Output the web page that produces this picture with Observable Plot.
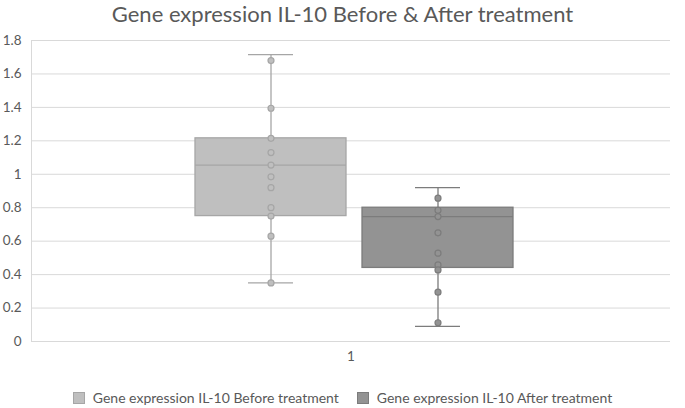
<!DOCTYPE html>
<html>
<head>
<meta charset="utf-8">
<script src="https://cdn.jsdelivr.net/npm/d3@7"></script>
<script src="https://cdn.jsdelivr.net/npm/@observablehq/plot@0.6"></script>
<style>
  body { margin: 0; background: #fff; font-family: Lato, "Open Sans", sans-serif; }
  #wrap { position: relative; width: 685px; height: 408px; overflow: hidden; }
  #title { position: absolute; top: 0px; left: 0; width: 685px; text-align: center; font-size: 22px; color: #595959; }
  #chart { position: absolute; top: 30px; left: 0; }
  #legend { position: absolute; top: 389px; left: 0; width: 685px; display: flex; justify-content: center; gap: 18px; font-size: 14px; color: #595959; }
  .item { display: flex; align-items: center; gap: 8px; }
  .sw { width: 12px; height: 12px; box-sizing: border-box; }
</style>
</head>
<body>
<div id="wrap">
  <div id="title">Gene expression IL-10 Before &amp; After treatment</div>
  <div id="chart"></div>
  <div id="legend"></div>
</div>
<script>
// ---- data ----
const category = "1";
const seriesNames = ["Gene expression IL-10 Before treatment", "Gene expression IL-10 After treatment"];
const seriesKeys = ["Before", "After"];
const whiskerMin = [0.35, 0.09];
const quartile1 = [0.75, 0.44];
const medians = [1.055, 0.747];
const quartile3 = [1.215, 0.80];
const whiskerMax = [1.715, 0.92];
const pointsBefore = [1.68, 1.395, 1.215, 1.13, 1.055, 0.985, 0.92, 0.80, 0.75, 0.63, 0.35];
const pointsAfter = [0.857, 0.785, 0.747, 0.65, 0.528, 0.458, 0.428, 0.295, 0.112];
const yTicks = [0, 0.2, 0.4, 0.6, 0.8, 1, 1.2, 1.4, 1.6, 1.8];
const fills = ["#bfbfbf", "#939393"];
const strokes = ["#a6a6a6", "#7c7c7c"];

// ---- derived tables ----
const boxes = seriesKeys.map((k, i) => ({
  cat: category, key: k, min: whiskerMin[i], q1: quartile1[i], med: medians[i], q3: quartile3[i], max: whiskerMax[i]
}));
const pts = [
  ...pointsBefore.map(v => ({cat: category, key: "Before", v})),
  ...pointsAfter.map(v => ({cat: category, key: "After", v}))
];

const color = {type: "ordinal", domain: seriesKeys, range: fills};

const chart = Plot.plot({
  width: 685,
  height: 345,
  marginLeft: 31,
  marginRight: 15,
  marginTop: 10,
  marginBottom: 34,
  style: {fontFamily: "Lato, 'Open Sans', sans-serif", fontSize: "13.5px", color: "#595959", background: "#fff"},
  fx: {domain: [category], padding: 0, label: null},
  x: {domain: seriesKeys, paddingInner: 0.095, paddingOuter: 0.95, align: 0.51, axis: null},
  y: {domain: [0, 1.8], ticks: yTicks, label: null},
  marks: [
    Plot.ruleY(yTicks, {stroke: "#d9d9d9", strokeWidth: 1}),
    Plot.axisY(yTicks, {tickSize: 0, tickPadding: 10, label: null, tickFormat: d => String(d), fill: "#595959"}),
    Plot.axisFx({anchor: "bottom", tickSize: 0, tickPadding: 10, label: null, fill: "#595959"}),
    Plot.frame({anchor: "left", stroke: "#d9d9d9"}),
    Plot.ruleX(boxes, {fx: "cat", x: "key", y1: "min", y2: "max", stroke: (d, i) => strokes[i], strokeWidth: 1.3}),
    Plot.tickY(boxes, {fx: "cat", x: "key", y: "min", stroke: (d, i) => strokes[i], strokeWidth: 1.3, inset: 53}),
    Plot.tickY(boxes, {fx: "cat", x: "key", y: "max", stroke: (d, i) => strokes[i], strokeWidth: 1.3, inset: 53}),
    Plot.barY(boxes, {fx: "cat", x: "key", y1: "q1", y2: "q3", fill: "key", stroke: (d, i) => strokes[i], strokeWidth: 1.3}),
    Plot.tickY(boxes, {fx: "cat", x: "key", y: "med", stroke: (d, i) => strokes[i], strokeWidth: 1.3}),
    Plot.dot(pts, {fx: "cat", x: "key", y: "v", r: 3, fill: "key", stroke: d => strokes[seriesKeys.indexOf(d.key)], strokeWidth: 1.2})
  ],
  color
});
document.getElementById("chart").appendChild(chart);

// legend
const legend = document.getElementById("legend");
seriesNames.forEach((name, i) => {
  const item = document.createElement("div");
  item.className = "item";
  const sw = document.createElement("div");
  sw.className = "sw";
  sw.style.background = fills[i];
  sw.style.border = "1px solid " + strokes[i];
  const label = document.createElement("span");
  label.textContent = name;
  item.appendChild(sw);
  item.appendChild(label);
  legend.appendChild(item);
});
</script>
</body>
</html>
